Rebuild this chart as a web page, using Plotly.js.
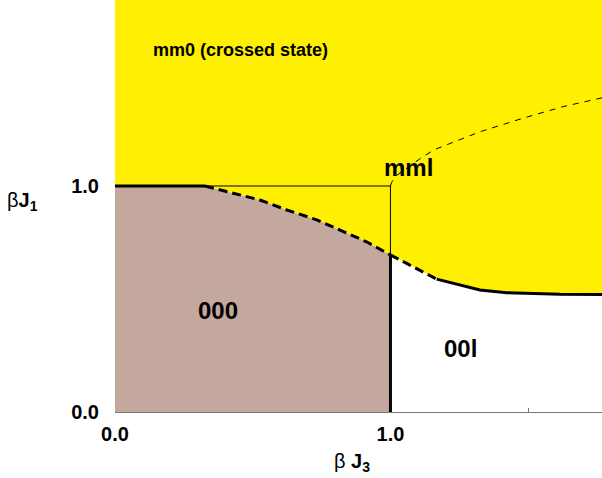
<!DOCTYPE html>
<html>
<head>
<meta charset="utf-8">
<script src="https://cdn.plot.ly/plotly-3.0.1.min.js"></script>
<style>html,body{margin:0;padding:0;background:#fff}#chart{width:602px;height:478px}</style>
</head>
<body>
<div id="chart"></div>
<script>
// Boundary of the 000 phase (top edge), x = beta J3, y = beta J1
var flatX = [0.0, 0.327];
var flatY = [1.0, 1.0];
var curve000X = [0.327, 0.428, 0.526, 0.624, 0.733, 0.817, 0.915, 1.0];
var curve000Y = [1.0, 0.969, 0.938, 0.894, 0.850, 0.805, 0.752, 0.695];
// Boundary of the 00l phase (top edge)
var dash00lX = [1.0, 1.082, 1.168];
var dash00lY = [0.695, 0.643, 0.588];
var solid00lX = [1.168, 1.325, 1.422, 1.615, 1.768];
var solid00lY = [0.588, 0.540, 0.528, 0.521, 0.520];
// Upper thin dashed line (mml)
var mmlX = [1.0, 1.004, 1.016, 1.118, 1.162, 1.325, 1.481, 1.626, 1.768];
var mmlY = [1.0, 1.015, 1.041, 1.130, 1.162, 1.240, 1.300, 1.351, 1.390];
// Thin guide lines
var guideX = [0.327, 1.0, 1.0];
var guideY = [1.0, 1.0, 0.695];
// Vertical 000 / 00l border
var borderX = [1.0, 1.0];
var borderY = [0.695, 0.0];

var xMax = 1.768, yMax = 1.823;
var xTickVals = [0, 1.0];
var xTickText = ["0.0", "1.0"];
var yTickVals = [0, 1.0];
var yTickText = ["0.0", "1.0"];

var labels = [
  {text: "mm0 (crossed state)", x: 0.457, y: 1.602, size: 18},
  {text: "mml", x: 1.064, y: 1.084, size: 24},
  {text: "000", x: 0.374, y: 0.451, size: 24},
  {text: "00l", x: 1.256, y: 0.279, size: 24}
];

var yellow = "#FFEF00", brown = "#C4A89E";

// polygons built from boundary arrays
var boundX = flatX.concat(curve000X.slice(1), dash00lX.slice(1), solid00lX.slice(1));
var boundY = flatY.concat(curve000Y.slice(1), dash00lY.slice(1), solid00lY.slice(1));
var yellowX = [0].concat(boundX, [xMax, xMax, 0]);
var yellowY = [yMax].concat(boundY, [yMax, yMax, yMax]);
var brownX = [0].concat(flatX, curve000X.slice(1), [1.0, 0]);
var brownY = [0].concat(flatY, curve000Y.slice(1), [0, 0]);

var traces = [
  {x: yellowX, y: yellowY, mode: "lines", fill: "toself", fillcolor: yellow, line: {width: 0, color: yellow}, hoverinfo: "skip"},
  {x: brownX, y: brownY, mode: "lines", fill: "toself", fillcolor: brown, line: {width: 0, color: brown}, hoverinfo: "skip"},
  {x: guideX, y: guideY, mode: "lines", line: {color: "#000", width: 1}},
  {x: mmlX, y: mmlY, mode: "lines", line: {color: "#000", width: 1, dash: "6px,6px"}},
  {x: flatX, y: flatY, mode: "lines", line: {color: "#000", width: 3}},
  {x: curve000X, y: curve000Y, mode: "lines", line: {color: "#000", width: 3, dash: "9px,5px"}},
  {x: dash00lX, y: dash00lY, mode: "lines", line: {color: "#000", width: 3, dash: "9px,5px"}},
  {x: solid00lX, y: solid00lY, mode: "lines", line: {color: "#000", width: 3}},
  {x: borderX, y: borderY, mode: "lines", line: {color: "#000", width: 3}}
];

var fam = "Liberation Sans, Arial, sans-serif";
var ann = labels.map(function (l) {
  return {text: "<b>" + l.text + "</b>", x: l.x, y: l.y, xref: "x", yref: "y", showarrow: false,
          font: {family: fam, size: l.size, color: "#000"}};
});
ann.push({text: "β<b>J</b><sub><b>1</b></sub>", xref: "paper", yref: "paper", x: -0.225, y: 0.51,
          xanchor: "left", yanchor: "middle", showarrow: false,
          font: {family: fam, size: 20, color: "#000"}});
ann.push({text: "β <b>J</b><sub><b>3</b></sub>", xref: "paper", yref: "paper", x: 0.486, y: -0.088,
          xanchor: "center", yanchor: "top", showarrow: false,
          font: {family: fam, size: 20, color: "#000"}});

var layout = {
  width: 602, height: 478,
  margin: {l: 115, r: 0, t: 0, b: 66, pad: 0},
  paper_bgcolor: "#fff", plot_bgcolor: "#fff",
  showlegend: false,
  font: {family: fam, color: "#000"},
  xaxis: {range: [0, xMax], tickvals: xTickVals, ticktext: xTickText, ticks: "inside", ticklen: 4,
          tickcolor: "#777", showline: true, linecolor: "#777", linewidth: 1, showgrid: false, zeroline: false,
          minor: {dtick: 0.5, tick0: 0, ticks: "inside", ticklen: 4, tickcolor: "#777", showgrid: false},
          layer: "below traces", ticklabelstandoff: 4,
          tickfont: {size: 20, family: fam, weight: "bold", color: "#000"}},
  yaxis: {range: [0, yMax], tickvals: yTickVals, ticktext: yTickText, ticks: "", showline: false,
          showgrid: false, zeroline: false, ticklabelstandoff: 15,
          tickfont: {size: 20, family: fam, weight: "bold", color: "#000"}},
  annotations: ann
};

Plotly.newPlot("chart", traces, layout, {staticPlot: true, displayModeBar: false});
</script>
</body>
</html>
